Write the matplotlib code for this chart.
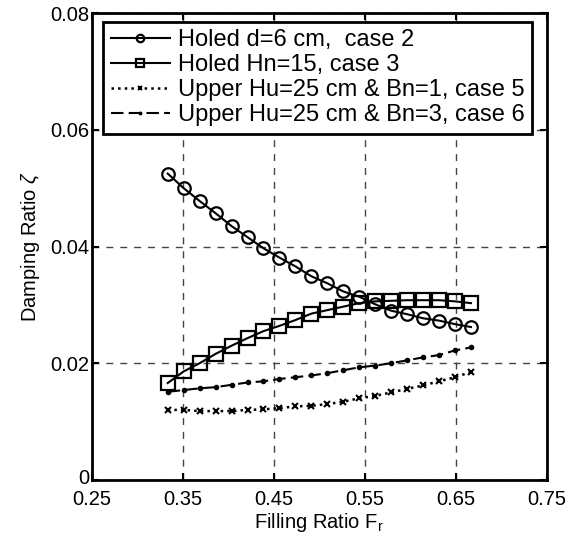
import matplotlib
matplotlib.use('Agg')
import matplotlib.pyplot as plt
import matplotlib.transforms as mtransforms
import numpy as np

plt.rcParams['font.family'] = ['Liberation Sans', 'DejaVu Sans']
plt.rcParams['mathtext.fontset'] = 'custom'
plt.rcParams['mathtext.rm'] = 'Liberation Sans'
plt.rcParams['mathtext.it'] = 'Liberation Sans:italic'

# filling ratio (20 points from 1/3 to 2/3)
fill_ratio = np.linspace(1 / 3, 2 / 3, 20)

case2 = [0.0525, 0.0500, 0.0478, 0.0457, 0.0435, 0.0416, 0.0397, 0.0381, 0.0366, 0.0349,
         0.0337, 0.0323, 0.0314, 0.0301, 0.0290, 0.0284, 0.0277, 0.0273, 0.0267, 0.0262]
case3 = [0.0166, 0.0186, 0.0200, 0.0216, 0.0230, 0.0243, 0.0255, 0.0264, 0.0274, 0.0285,
         0.0291, 0.0297, 0.0303, 0.0306, 0.0307, 0.0308, 0.0308, 0.0308, 0.0306, 0.0303]
case5 = [0.0120, 0.0120, 0.0118, 0.0118, 0.0118, 0.0120, 0.0121, 0.0123, 0.0126, 0.0127,
         0.0130, 0.0134, 0.0140, 0.0144, 0.0150, 0.0156, 0.0162, 0.0169, 0.0176, 0.0185]
case6 = [0.0151, 0.0154, 0.0157, 0.0159, 0.0163, 0.0167, 0.0169, 0.0173, 0.0176, 0.0179,
         0.0183, 0.0188, 0.0193, 0.0196, 0.0200, 0.0205, 0.0210, 0.0214, 0.0222, 0.0227]

labels = ['Holed d=6 cm,  case 2', 'Holed Hn=15, case 3',
          'Upper Hu=25 cm & Bn=1, case 5', 'Upper Hu=25 cm & Bn=3, case 6']
x_ticks = [0.25, 0.35, 0.45, 0.55, 0.65, 0.75]
y_ticks = [0, 0.02, 0.04, 0.06, 0.08]
y_ticklabels = ['0', '0.02', '0.04', '0.06', '0.08']

fs = 14.5
fig = plt.figure(figsize=(5.78, 5.46), dpi=100)
ax = fig.add_axes([0.159, 0.121, 0.787, 0.855])

ax.plot(fill_ratio, case2, 'k-o', lw=1.5, ms=9, mfc='none', mew=1.6, label=labels[0])
ax.plot(fill_ratio, case3, 'k-s', lw=1.5, ms=10, mfc='none', mew=1.6, label=labels[1])
ax.plot(fill_ratio, case5, 'k:x', lw=1.8, ms=4, mew=1.5, label=labels[2])
ax.plot(fill_ratio, case6, 'k--.', lw=1.5, ms=6, dashes=(6, 2.5), label=labels[3])

ax.set_xlim(0.25, 0.75)
ax.set_ylim(0, 0.08)
ax.set_xticks(x_ticks)
ax.set_xticklabels([f'{t:.2f}' for t in x_ticks])
ax.set_yticks(y_ticks)
ax.set_yticklabels(y_ticklabels)
ax.tick_params(direction='in', length=5, width=1.5, top=True, right=True,
               labelsize=fs)
ax.tick_params(axis='x', pad=7)
ax.tick_params(axis='y', pad=2)
ax.grid(True, color='#444444', linestyle=(0, (5, 5)), linewidth=1)
for sp in ax.spines.values():
    sp.set_linewidth(2)

# nudge the "0" label up a little so it clears "0.25"
zero_lbl = ax.get_yticklabels()[0]
zero_lbl.set_transform(zero_lbl.get_transform() +
                       mtransforms.ScaledTranslation(0, 3 / 100, fig.dpi_scale_trans))

ax.set_xlabel('Filling Ratio F$_\\mathrm{r}$', fontsize=fs, labelpad=2)
ax.set_ylabel('Damping Ratio $\\zeta$', fontsize=fs, labelpad=6)

leg = ax.legend(loc='upper left', bbox_to_anchor=(0.024, 0.982), fontsize=17,
                numpoints=1, handlelength=2.5, handletextpad=0.35, borderpad=0.33,
                labelspacing=0.12, borderaxespad=0, fancybox=False, framealpha=1,
                edgecolor='black', markerscale=0.6)
leg.get_frame().set_linewidth(2)

fig.savefig('out.png', dpi=100)
